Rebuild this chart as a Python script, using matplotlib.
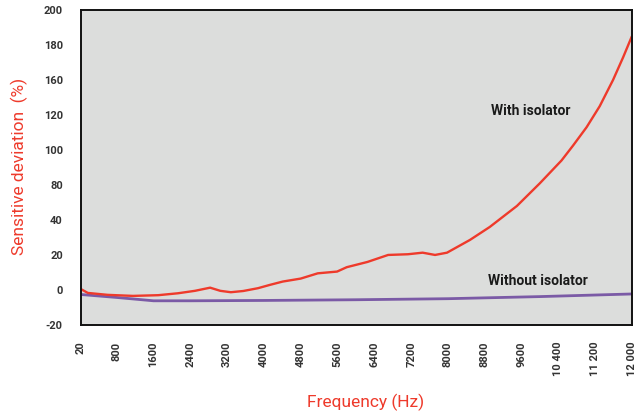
import numpy as np
import matplotlib
matplotlib.use('Agg')
import matplotlib.pyplot as plt

plt.rcParams['font.family'] = ['Roboto', 'DejaVu Sans']

# with isolator (y in axis position units)
freq_with = [20, 170, 600, 1150, 1700, 2130, 2500, 2830, 3050, 3280, 3550, 3870,
             4130, 4410, 4800, 5170, 5590, 5800, 6250, 6700, 7130, 7450, 7720,
             7980, 8480, 8910, 9500, 10000, 10470, 10720, 11015, 11300, 11590,
             11810, 12000]
dev_with = [0.5, -1.7, -2.8, -3.4, -3.0, -1.9, -0.5, 1.3, -0.5, -1.3, -0.6, 1.0,
            2.9, 4.8, 6.5, 9.5, 10.5, 13, 16, 20, 20.4, 21.3, 20,
            21.3, 28.6, 36, 48, 61, 74, 82.5, 93, 105, 120,
            133, 145]

# without isolator
freq_without = [20, 800, 1600, 2400, 4000, 6000, 8000, 10000, 12000]
dev_without = [-2.6, -4.3, -6.2, -6.2, -6.0, -5.6, -5.0, -3.8, -2.3]

yticks = [-20, 0, 20, 40, 60, 80, 100, 120, 140, 160]
ytick_labels = ['-20', '0', '20', '40', '80', '100', '120', '160', '180', '200']
xticks = [20, 800, 1600, 2400, 3200, 4000, 4800, 5600, 6400, 7200, 8000,
          8800, 9600, 10400, 11200, 12000]
xtick_labels = ['20', '800', '1600', '2400', '3200', '4000', '4800', '5600',
                '6400', '7200', '8000', '8800', '9600', '10 400', '11 200', '12 000']

red = '#EE3A2B'
purple = '#7B5AA6'

fig = plt.figure(figsize=(6.37, 4.15), dpi=100)
ax = fig.add_axes([0.127, 0.217, 0.865, 0.759])
ax.set_facecolor('#DCDDDC')

ax.plot(freq_without, dev_without, color=purple, lw=2.0, solid_capstyle='butt')
ax.plot(freq_with, dev_with, color=red, lw=1.7, solid_capstyle='butt',
        solid_joinstyle='round')

ax.set_xlim(20, 12000)
ax.set_ylim(-20, 160)
ax.set_yticks(yticks)
ax.set_yticklabels(ytick_labels)
ax.set_xticks(xticks)
ax.set_xticklabels(xtick_labels, rotation=90)
ax.tick_params(axis='both', length=0, labelsize=8, labelcolor='#333333')
ax.tick_params(axis='y', pad=13)
ax.tick_params(axis='x', pad=12)
for lab in ax.get_xticklabels() + ax.get_yticklabels():
    lab.set_fontweight('bold')

for s in ax.spines.values():
    s.set_color('#111111')
    s.set_linewidth(1.4)

ax.text(8934, 102.3, 'With isolator', fontsize=10, fontweight='bold',
        color='#1a1a1a', va='center', ha='left')
ax.text(8869, 5.1, 'Without isolator', fontsize=10, fontweight='bold',
        color='#1a1a1a', va='center', ha='left')

fig.text(0.03, 0.60, 'Sensitive deviation  (%)', rotation=90, color=red,
         fontsize=12.5, ha='center', va='center')
fig.text(0.574, 0.03, 'Frequency (Hz)', color=red, fontsize=12.5,
         ha='center', va='center')

fig.savefig('out.png', dpi=100)
